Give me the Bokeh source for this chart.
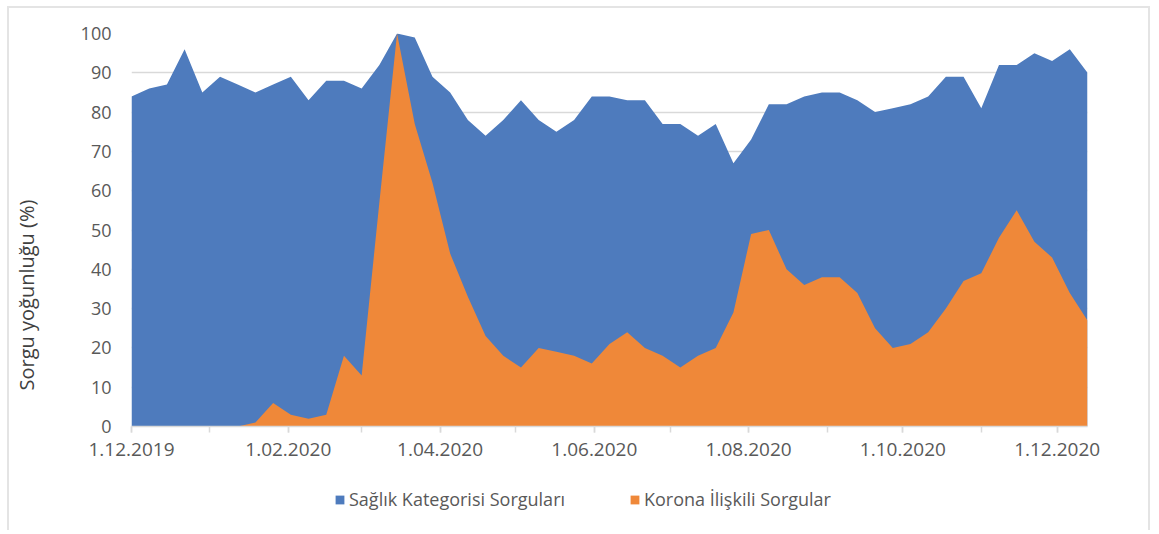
import pandas as pd
from bokeh.plotting import figure
from bokeh.layouts import column
from bokeh.models import (Range1d, FixedTicker, Legend, LegendItem, ColumnDataSource,
                          LinearAxis, Title)
from bokeh.embed import file_html
from bokeh.resources import INLINE

# weekly data (Sundays), 1.12.2019 - 13.12.2020
start_date = "2019-12-01"
n_weeks = 55
saglik = [84, 86, 87, 96, 85, 89, 87, 85, 87, 89, 83, 88, 88, 86, 92, 100, 99, 89, 85, 78,
          74, 78, 83, 78, 75, 78, 84, 84, 83, 83, 77, 77, 74, 77, 67, 73, 82, 82, 84, 85,
          85, 83, 80, 81, 82, 84, 89, 89, 81, 92, 92, 95, 93, 96, 90]
korona = [0, 0, 0, 0, 0, 0, 0, 1, 6, 3, 2, 3, 18, 13, 57, 100, 77, 62, 44, 33,
          23, 18, 15, 20, 19, 18, 16, 21, 24, 20, 18, 15, 18, 20, 29, 49, 50, 40, 36, 38,
          38, 34, 25, 20, 21, 24, 30, 37, 39, 48, 55, 47, 43, 34, 27]
series_names = ["Sağlık Kategorisi Sorguları", "Korona İlişkili Sorgular"]
y_title = "Sorgu yoğunluğu (%)"
colors = ["#4e7bbd", "#ef8839"]
month_ticks = ["2019-12-01", "2020-01-01", "2020-02-01", "2020-03-01", "2020-04-01",
               "2020-05-01", "2020-06-01", "2020-07-01", "2020-08-01", "2020-09-01",
               "2020-10-01", "2020-11-01", "2020-12-01"]
label_ticks = ["2019-12-01", "2020-02-01", "2020-04-01", "2020-06-01", "2020-08-01",
               "2020-10-01", "2020-12-01"]
label_texts = ["1.12.2019", "1.02.2020", "1.04.2020", "1.06.2020", "1.08.2020",
               "1.10.2020", "1.12.2020"]
y_ticks = list(range(0, 101, 10))

dates = pd.date_range(start_date, periods=n_weeks, freq="7D")
src = ColumnDataSource(dict(x=dates, s=saglik, k=korona, z=[0] * n_weeks))

def ms(d):
    return pd.Timestamp(d).value // 10**6

FONT = "Open Sans"
GRAY = "#595959"
BORDER = "2px solid #e4e4e4"
W = 1143
BL, BR = 122, 65

p = figure(width=W, height=462, x_axis_type="datetime",
           output_backend="svg", toolbar_location=None,
           x_range=Range1d(pd.Timestamp(dates[0]), pd.Timestamp(dates[-1])),
           y_range=Range1d(0, 100),
           min_border_left=BL, min_border_right=BR, min_border_top=25, min_border_bottom=44)
p.styles = {"margin-left": "7px", "margin-top": "6px",
            "border-left": BORDER, "border-top": BORDER, "border-right": BORDER}
p.outline_line_color = None

r1 = p.varea(x="x", y1="z", y2="s", source=src, fill_color=colors[0])
r2 = p.varea(x="x", y1="z", y2="k", source=src, fill_color=colors[1])

# grid
p.xgrid.grid_line_color = None
p.ygrid.grid_line_color = "#d9d9d9"
p.ygrid.grid_line_width = 1.5
p.ygrid.ticker = FixedTicker(ticks=y_ticks)

# y axis
p.yaxis.ticker = FixedTicker(ticks=y_ticks)
p.yaxis.axis_line_color = None
p.yaxis.major_tick_line_color = None
p.yaxis.minor_tick_line_color = None
p.yaxis.major_tick_out = 0
p.yaxis.major_label_standoff = 20
p.yaxis.major_label_text_font = FONT
p.yaxis.major_label_text_font_size = "18px"
p.yaxis.major_label_text_color = GRAY

# invisible spacer axis between tick labels and the axis title
gap = LinearAxis(ticker=FixedTicker(ticks=[50]), major_tick_out=36, major_tick_in=0,
                 major_tick_line_color=None, minor_tick_line_color=None,
                 axis_line_color=None, major_label_standoff=0,
                 major_label_overrides={50: ""}, major_label_text_font_size="1px")
p.add_layout(gap, "left")
p.add_layout(Title(text=y_title, align="left", offset=36, standoff=0,
                   vertical_align="top", text_font=FONT, text_font_size="20px",
                   text_font_style="normal", text_color="#404040"), "left")

# x axis
p.xaxis.ticker = FixedTicker(ticks=[ms(d) for d in label_ticks],
                             minor_ticks=[ms(d) for d in month_ticks])
p.xaxis.major_label_overrides = {ms(d): t for d, t in zip(label_ticks, label_texts)}
p.xaxis.axis_line_color = "#d9d9d9"
p.xaxis.axis_line_width = 1.5
p.xaxis.major_tick_line_color = "#d9d9d9"
p.xaxis.minor_tick_line_color = "#d9d9d9"
p.xaxis.major_tick_line_width = 1.5
p.xaxis.minor_tick_line_width = 1.5
p.xaxis.major_tick_out = 6
p.xaxis.major_tick_in = 0
p.xaxis.minor_tick_out = 6
p.xaxis.minor_tick_in = 0
p.xaxis.major_label_standoff = 10
p.xaxis.major_label_text_font = FONT
p.xaxis.major_label_text_font_size = "19px"
p.xaxis.major_label_text_color = GRAY

# legend strip below the chart (its swatch renderers lie outside the strip's ranges)
lfig = figure(width=W, height=62, output_backend="svg", toolbar_location=None,
              x_range=Range1d(0, 1), y_range=Range1d(0, 1),
              min_border_left=BL, min_border_right=BR, min_border_top=0, min_border_bottom=0)
lfig.styles = {"margin-left": "7px", "border-left": BORDER, "border-right": BORDER}
lfig.axis.visible = False
lfig.grid.visible = False
lfig.outline_line_color = None
l1 = lfig.varea(x="x", y1="z", y2="s", source=src, fill_color=colors[0])
l2 = lfig.varea(x="x", y1="z", y2="k", source=src, fill_color=colors[1])
legend = Legend(items=[LegendItem(label=series_names[0], renderers=[l1]),
                       LegendItem(label=series_names[1], renderers=[l2])],
                orientation="horizontal", location="center",
                glyph_width=11, glyph_height=11, label_standoff=4, spacing=40,
                label_width=240, padding=0, margin=0,
                label_text_font=FONT, label_text_font_size="18px", label_text_color=GRAY,
                border_line_color=None, background_fill_alpha=0)
lfig.add_layout(legend)

layout = column(p, lfig)
open("out.html", "w").write(file_html(layout, INLINE))
